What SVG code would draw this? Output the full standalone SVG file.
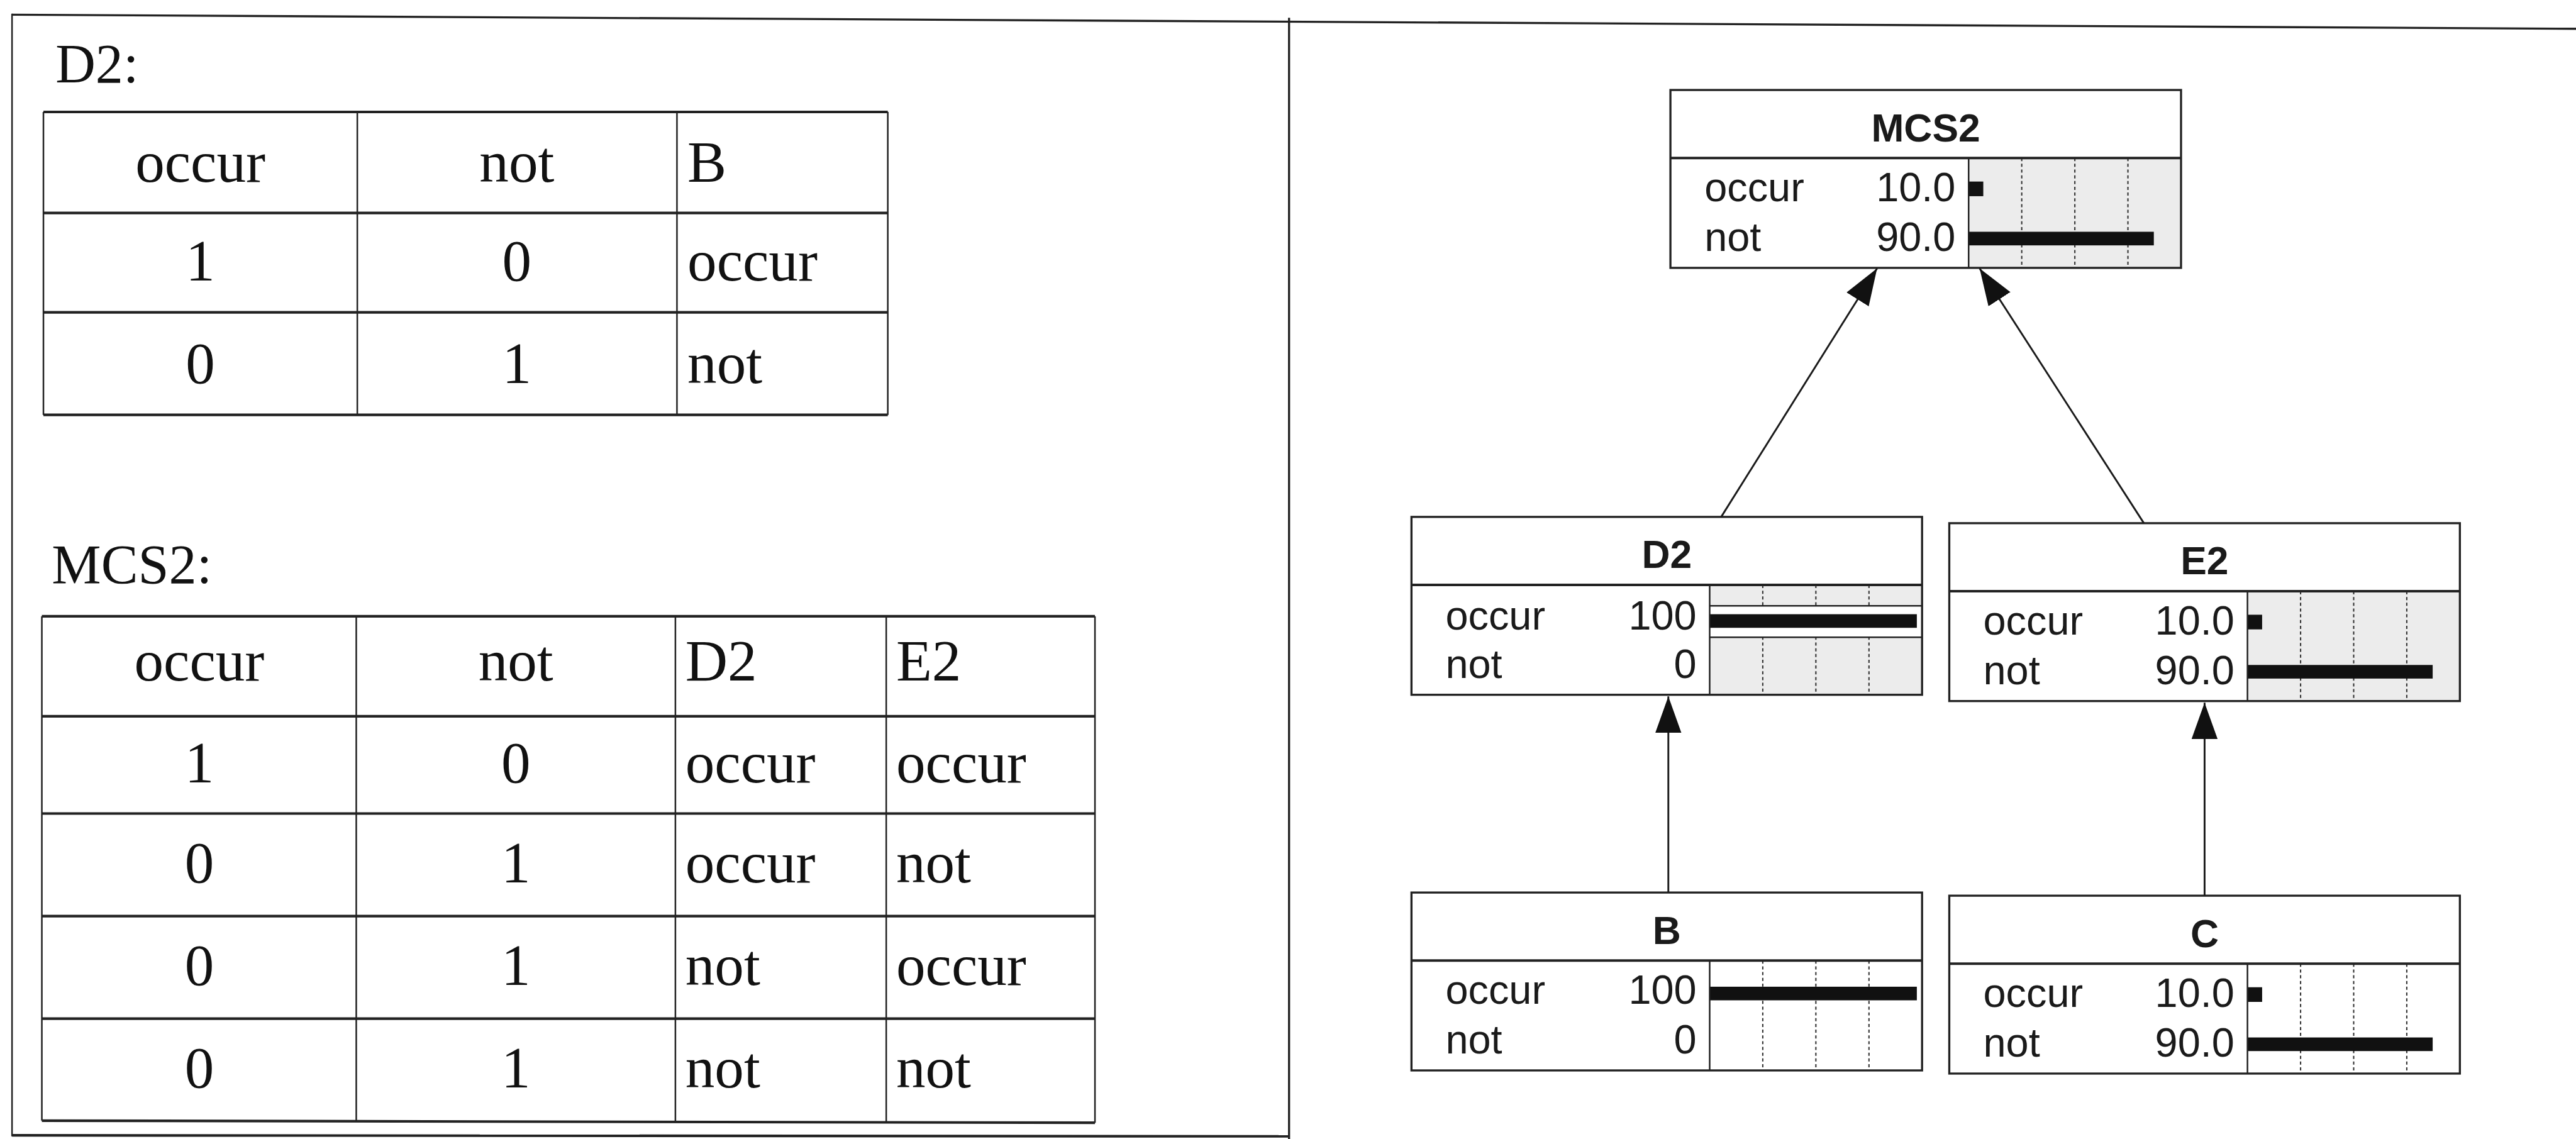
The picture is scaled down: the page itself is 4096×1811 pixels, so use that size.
<svg xmlns="http://www.w3.org/2000/svg" width="4096" height="1811" viewBox="0 0 4096 1811">
<defs>
<style>
.serif{font-family:"Liberation Serif","Times New Roman",serif;fill:#111;}
.lbl{font-size:106px;}
.cell{font-size:112px;}
.c{text-anchor:middle;}
.sans{font-family:"Liberation Sans",Arial,sans-serif;fill:#1a1a1a;}
.title{font-size:75px;font-weight:bold;text-anchor:middle;}
.row{font-size:78px;}
.val{font-size:78px;text-anchor:end;}
.h{stroke:#222;stroke-width:5;fill:none;}
.v{stroke:#222;stroke-width:3;fill:none;}
.fr{stroke:#222;fill:none;}
.boxfill{fill:#fff;}
.outline{fill:none;stroke:#222;stroke-width:4;}
.hdr{stroke:#222;stroke-width:5;}
.sep{stroke:#222;stroke-width:3;}
.grid{stroke:#333;stroke-width:2.5;stroke-dasharray:6 5;}
.bararea{fill:#ececec;}
.bar{fill:#111;}
.edge{stroke:#1a1a1a;stroke-width:3.5;fill:none;marker-end:url(#ah);}
</style>
<marker id="ah" viewBox="0 0 70 50" refX="70" refY="25" markerWidth="70" markerHeight="50" orient="auto" markerUnits="userSpaceOnUse"><path d="M0,0 L70,25 L0,50 Z" fill="#111"/></marker>
</defs>
<rect width="4096" height="1811" fill="#fff"/>
<g transform="scale(0.83185)">
<g id="frame">
<line class="fr" x1="23" y1="28" x2="4924" y2="55" stroke-width="4"/>
<line class="fr" x1="23" y1="26" x2="23" y2="2172" stroke-width="3"/>
<line class="fr" x1="2464" y1="34" x2="2464" y2="2177" stroke-width="4"/>
<line class="fr" x1="23" y1="2170" x2="2464" y2="2172" stroke-width="5"/>
</g>

<g id="table-D2">
<text class="serif lbl" x="106" y="158">D2:</text>
<line class="h" x1="83" y1="214" x2="1697" y2="214"/>
<line class="h" x1="83" y1="407" x2="1697" y2="407"/>
<line class="h" x1="83" y1="597" x2="1697" y2="597"/>
<line class="h" x1="83" y1="793" x2="1697" y2="793"/>
<line class="v" x1="83" y1="214" x2="83" y2="793"/>
<line class="v" x1="683" y1="214" x2="683" y2="793"/>
<line class="v" x1="1294" y1="214" x2="1294" y2="793"/>
<line class="v" x1="1697" y1="214" x2="1697" y2="793"/>
<text class="serif cell c" x="383" y="347">occur</text>
<text class="serif cell c" x="988" y="347">not</text>
<text class="serif cell" x="1314" y="347">B</text>
<text class="serif cell c" x="383" y="536">1</text>
<text class="serif cell c" x="988" y="536">0</text>
<text class="serif cell" x="1314" y="536">occur</text>
<text class="serif cell c" x="383" y="732">0</text>
<text class="serif cell c" x="988" y="732">1</text>
<text class="serif cell" x="1314" y="732">not</text>
</g>

<g id="table-MCS2">
<text class="serif lbl" x="99" y="1114">MCS2:</text>
<line class="h" x1="80" y1="1178" x2="2093" y2="1178"/>
<line class="h" x1="80" y1="1369" x2="2093" y2="1369"/>
<line class="h" x1="80" y1="1555" x2="2093" y2="1555"/>
<line class="h" x1="80" y1="1751" x2="2093" y2="1751"/>
<line class="h" x1="80" y1="1947" x2="2093" y2="1947"/>
<line class="h" x1="80" y1="2142" x2="2093" y2="2146"/>
<line class="v" x1="80" y1="1178" x2="80" y2="2142"/>
<line class="v" x1="681" y1="1178" x2="681" y2="2143"/>
<line class="v" x1="1291" y1="1178" x2="1291" y2="2144"/>
<line class="v" x1="1694" y1="1178" x2="1694" y2="2145"/>
<line class="v" x1="2093" y1="1178" x2="2093" y2="2146"/>
<text class="serif cell c" x="381" y="1301">occur</text>
<text class="serif cell c" x="986" y="1301">not</text>
<text class="serif cell" x="1310" y="1301">D2</text>
<text class="serif cell" x="1713" y="1301">E2</text>
<text class="serif cell c" x="381" y="1496">1</text>
<text class="serif cell c" x="986" y="1496">0</text>
<text class="serif cell" x="1310" y="1496">occur</text>
<text class="serif cell" x="1713" y="1496">occur</text>
<text class="serif cell c" x="381" y="1687">0</text>
<text class="serif cell c" x="986" y="1687">1</text>
<text class="serif cell" x="1310" y="1687">occur</text>
<text class="serif cell" x="1713" y="1687">not</text>
<text class="serif cell c" x="381" y="1883">0</text>
<text class="serif cell c" x="986" y="1883">1</text>
<text class="serif cell" x="1310" y="1883">not</text>
<text class="serif cell" x="1713" y="1883">occur</text>
<text class="serif cell c" x="381" y="2079">0</text>
<text class="serif cell c" x="986" y="2079">1</text>
<text class="serif cell" x="1310" y="2079">not</text>
<text class="serif cell" x="1713" y="2079">not</text>
</g>

<g id="node-MCS2" transform="translate(3193,172)">
<rect class="boxfill" width="976" height="340"/>
<rect class="bararea" x="570" y="130" width="406" height="210"/>
<line class="grid" x1="671.5" y1="130" x2="671.5" y2="340"/>
<line class="grid" x1="773" y1="130" x2="773" y2="340"/>
<line class="grid" x1="874.5" y1="130" x2="874.5" y2="340"/>
<rect class="bar" x="570" y="175" width="28" height="28"/>
<rect class="bar" x="570" y="271" width="354" height="26"/>
<line class="hdr" x1="0" y1="130" x2="976" y2="130"/>
<line class="sep" x1="570" y1="130" x2="570" y2="340"/>
<rect class="outline" width="976" height="340"/>
<text class="sans title" x="488" y="98">MCS2</text>
<text class="sans row" x="65" y="213">occur</text>
<text class="sans val" x="545" y="213">10.0</text>
<text class="sans row" x="65" y="308">not</text>
<text class="sans val" x="545" y="308">90.0</text>
</g>

<g id="node-D2" transform="translate(2698,988)">
<rect class="boxfill" width="976" height="340"/>
<rect class="bararea" x="570" y="130" width="406" height="210"/>
<line class="grid" x1="671.5" y1="130" x2="671.5" y2="340"/>
<line class="grid" x1="773" y1="130" x2="773" y2="340"/>
<line class="grid" x1="874.5" y1="130" x2="874.5" y2="340"/>
<rect x="570" y="170" width="406" height="60" fill="#fff"/>
<line class="sep" x1="570" y1="170" x2="976" y2="170"/>
<line class="sep" x1="570" y1="230" x2="976" y2="230"/>
<rect class="bar" x="570" y="186" width="396" height="26"/>
<line class="hdr" x1="0" y1="130" x2="976" y2="130"/>
<line class="sep" x1="570" y1="130" x2="570" y2="340"/>
<rect class="outline" width="976" height="340"/>
<text class="sans title" x="488" y="98">D2</text>
<text class="sans row" x="65" y="215">occur</text>
<text class="sans val" x="545" y="215">100</text>
<text class="sans row" x="65" y="308">not</text>
<text class="sans val" x="545" y="308">0</text>
</g>

<g id="node-E2" transform="translate(3726,1000)">
<rect class="boxfill" width="976" height="340"/>
<rect class="bararea" x="570" y="130" width="406" height="210"/>
<line class="grid" x1="671.5" y1="130" x2="671.5" y2="340"/>
<line class="grid" x1="773" y1="130" x2="773" y2="340"/>
<line class="grid" x1="874.5" y1="130" x2="874.5" y2="340"/>
<rect class="bar" x="570" y="175" width="28" height="28"/>
<rect class="bar" x="570" y="271" width="354" height="26"/>
<line class="hdr" x1="0" y1="130" x2="976" y2="130"/>
<line class="sep" x1="570" y1="130" x2="570" y2="340"/>
<rect class="outline" width="976" height="340"/>
<text class="sans title" x="488" y="98">E2</text>
<text class="sans row" x="65" y="213">occur</text>
<text class="sans val" x="545" y="213">10.0</text>
<text class="sans row" x="65" y="308">not</text>
<text class="sans val" x="545" y="308">90.0</text>
</g>

<g id="node-B" transform="translate(2698,1706)">
<rect class="boxfill" width="976" height="340"/>
<line class="grid" x1="671.5" y1="130" x2="671.5" y2="340"/>
<line class="grid" x1="773" y1="130" x2="773" y2="340"/>
<line class="grid" x1="874.5" y1="130" x2="874.5" y2="340"/>
<rect class="bar" x="570" y="180" width="396" height="26"/>
<line class="hdr" x1="0" y1="130" x2="976" y2="130"/>
<line class="sep" x1="570" y1="130" x2="570" y2="340"/>
<rect class="outline" width="976" height="340"/>
<text class="sans title" x="488" y="98">B</text>
<text class="sans row" x="65" y="213">occur</text>
<text class="sans val" x="545" y="213">100</text>
<text class="sans row" x="65" y="308">not</text>
<text class="sans val" x="545" y="308">0</text>
</g>

<g id="node-C" transform="translate(3726,1712)">
<rect class="boxfill" width="976" height="340"/>
<line class="grid" x1="671.5" y1="130" x2="671.5" y2="340"/>
<line class="grid" x1="773" y1="130" x2="773" y2="340"/>
<line class="grid" x1="874.5" y1="130" x2="874.5" y2="340"/>
<rect class="bar" x="570" y="175" width="28" height="28"/>
<rect class="bar" x="570" y="271" width="354" height="26"/>
<line class="hdr" x1="0" y1="130" x2="976" y2="130"/>
<line class="sep" x1="570" y1="130" x2="570" y2="340"/>
<rect class="outline" width="976" height="340"/>
<text class="sans title" x="488" y="98">C</text>
<text class="sans row" x="65" y="213">occur</text>
<text class="sans val" x="545" y="213">10.0</text>
<text class="sans row" x="65" y="308">not</text>
<text class="sans val" x="545" y="308">90.0</text>
</g>

<g id="connectors">
<line class="edge" x1="3189" y1="1706" x2="3189" y2="1331"/>
<line class="edge" x1="4214" y1="1712" x2="4214" y2="1343"/>
<line class="edge" x1="3290" y1="988" x2="3588" y2="513"/>
<line class="edge" x1="4098" y1="1000" x2="3784" y2="513"/>
</g>
</g>
</svg>
